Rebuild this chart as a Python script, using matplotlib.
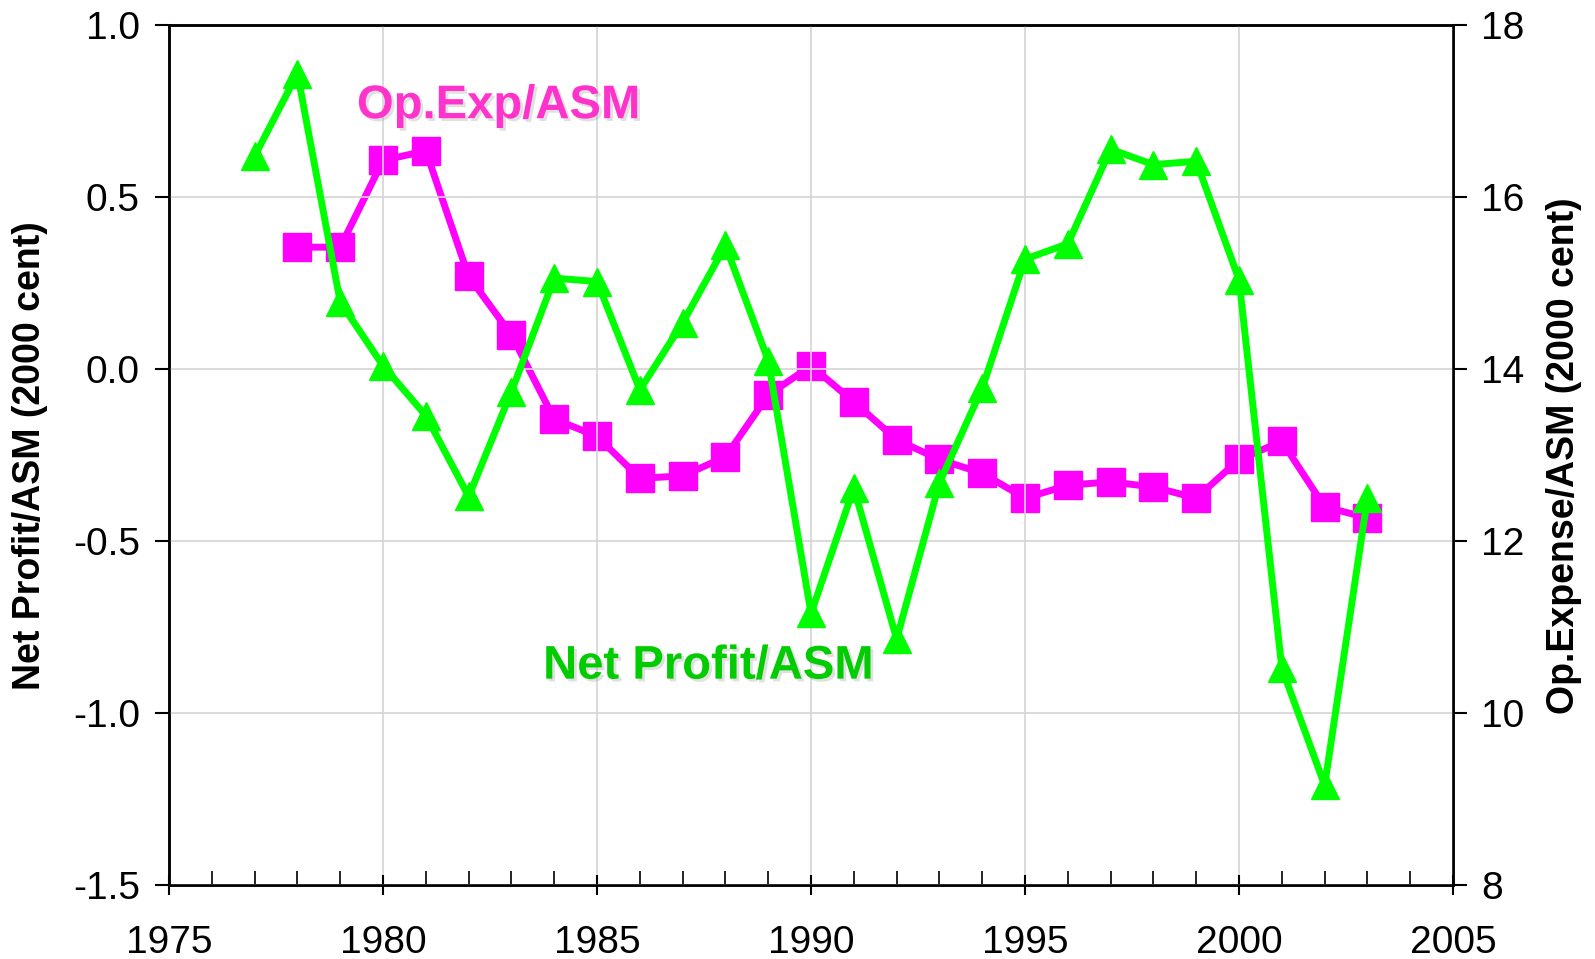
import matplotlib
matplotlib.use("Agg")
import matplotlib.pyplot as plt
import matplotlib.patheffects as pe
from matplotlib.ticker import MultipleLocator, FormatStrFormatter

plt.rcParams["axes.unicode_minus"] = False

# data
years_np = list(range(1977, 2004))
net_profit = [0.62, 0.86, 0.195, 0.01, -0.135, -0.37, -0.065, 0.265, 0.255, -0.06,
              0.135, 0.36, 0.025, -0.71, -0.345, -0.785, -0.33, -0.055, 0.32, 0.365,
              0.64, 0.595, 0.605, 0.26, -0.87, -1.21, -0.375]

years_op = list(range(1978, 2004))
op_exp = [15.42, 15.42, 16.43, 16.54, 15.08, 14.40, 13.42, 13.22, 12.73, 12.76,
          12.98, 13.70, 14.04, 13.62, 13.18, 12.95, 12.79, 12.50, 12.65, 12.69,
          12.63, 12.50, 12.95, 13.16, 12.40, 12.27]

tick_font = ["Liberation Sans Narrow", "Liberation Sans", "DejaVu Sans"]
bold_font = ["Liberation Sans", "DejaVu Sans"]

fig = plt.figure(figsize=(15.95, 9.59), dpi=100)
ax = fig.add_axes([0.106, 0.0772, 0.805, 0.8963])
ax2 = ax.twinx()

ax.set_xlim(1975, 2005)
ax.set_ylim(-1.5, 1.0)
ax2.set_ylim(8, 18)
ax.xaxis.set_major_locator(MultipleLocator(5))
ax.xaxis.set_minor_locator(MultipleLocator(1))
ax.yaxis.set_major_locator(MultipleLocator(0.5))
ax.yaxis.set_major_formatter(FormatStrFormatter("%.1f"))
ax2.yaxis.set_major_locator(MultipleLocator(2))
ax.grid(True, which="major", color="#d4d4d4", linewidth=1.2)
ax.set_axisbelow(True)

ax2.plot(years_op, op_exp, color="#ff00ff", linewidth=5, marker="s",
         markersize=20, zorder=3)
ax.plot(years_np, net_profit, color="#00ff00", linewidth=5, marker="^",
        markersize=20, zorder=4)
ax.set_zorder(ax2.get_zorder() + 1)
ax.patch.set_visible(False)

ax.tick_params(axis="x", which="major", direction="inout", length=14, width=1.5,
               pad=22, labelsize=28)
ax.tick_params(axis="x", which="minor", direction="in", length=10, width=1.2)
ax.tick_params(axis="y", direction="out", length=10, width=1.5, labelsize=28, pad=11)
ax2.tick_params(axis="y", direction="out", length=10, width=1.5, labelsize=28, pad=10)
for lab in ax.get_xticklabels() + ax.get_yticklabels() + ax2.get_yticklabels():
    lab.set_family(tick_font)

for a in (ax, ax2):
    for s in a.spines.values():
        s.set_linewidth(1.8)

ax.set_ylabel("Net Profit/ASM (2000 cent)", fontsize=27, fontweight="bold",
              family=bold_font, labelpad=18)
ax2.set_ylabel("Op.Expense/ASM (2000 cent)", fontsize=27, fontweight="bold",
               family=bold_font, labelpad=16)

shadow = [pe.withSimplePatchShadow(offset=(2, -2), shadow_rgbFace="#999999")]
ax.text(1982.7, 0.765, "Op.Exp/ASM", color="#ff33cc", fontsize=34, fontweight="bold",
        family=bold_font, ha="center", va="center", zorder=6, path_effects=shadow)
ax.text(1987.6, -0.865, "Net Profit/ASM", color="#00cc00", fontsize=34, fontweight="bold",
        family=bold_font, ha="center", va="center", zorder=6, path_effects=shadow)

fig.savefig("out.png", dpi=100)
